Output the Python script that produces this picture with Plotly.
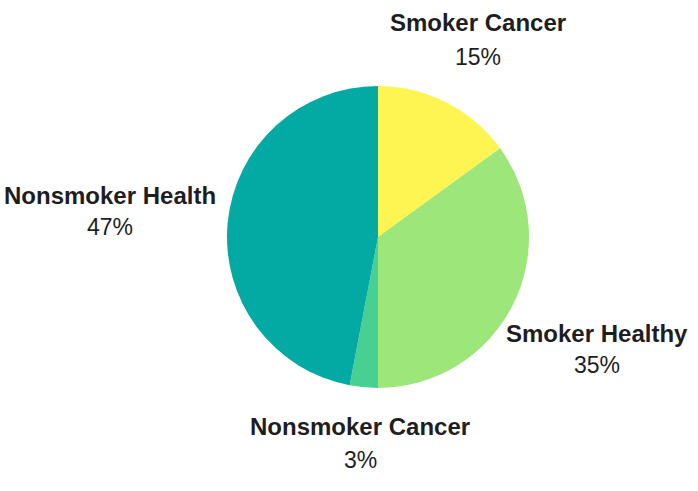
import plotly.graph_objects as go

labels = ["Smoker Cancer", "Smoker Healthy", "Nonsmoker Cancer", "Nonsmoker Health"]
values = [15, 35, 3, 47]
colors = ["#FEF552", "#9DE67A", "#47D092", "#03AAA4"]

# label centres in pixels (layout only): name line, percent line
name_px = [(478, 23), (597, 333), (360, 426), (110, 195)]
pct_px = [(478, 57), (597, 365), (360, 460), (110, 227)]

W, H = 698, 491
L, R, T, B = 227, 169, 86, 103
pw, ph = W - L - R, H - T - B

fig = go.Figure(go.Pie(
    labels=labels, values=values, sort=False, direction="clockwise", rotation=0,
    marker=dict(colors=colors, line=dict(width=0)),
    textinfo="none", hoverinfo="label+percent", showlegend=False,
))

FONT = "Liberation Sans, Arial, sans-serif"
total = sum(values)
for lab, v, (nx, ny), (qx, qy) in zip(labels, values, name_px, pct_px):
    fig.add_annotation(
        x=(nx - L) / pw, y=(H - B - ny) / ph, xref="paper", yref="paper",
        xanchor="center", yanchor="middle", showarrow=False,
        text=f"<b>{lab}</b>",
        font=dict(family=FONT, size=24, color="#1e1e1e"),
    )
    fig.add_annotation(
        x=(qx - L) / pw, y=(H - B - qy) / ph, xref="paper", yref="paper",
        xanchor="center", yanchor="middle", showarrow=False,
        text=f"{round(100 * v / total)}%",
        font=dict(family=FONT, size=23, color="#1e1e1e"),
    )

fig.update_layout(
    width=W, height=H, margin=dict(l=L, r=R, t=T, b=B),
    paper_bgcolor="white", plot_bgcolor="white",
)
fig.write_html("out.html", config={"displayModeBar": False},
               post_script="document.body.style.margin='0';")
